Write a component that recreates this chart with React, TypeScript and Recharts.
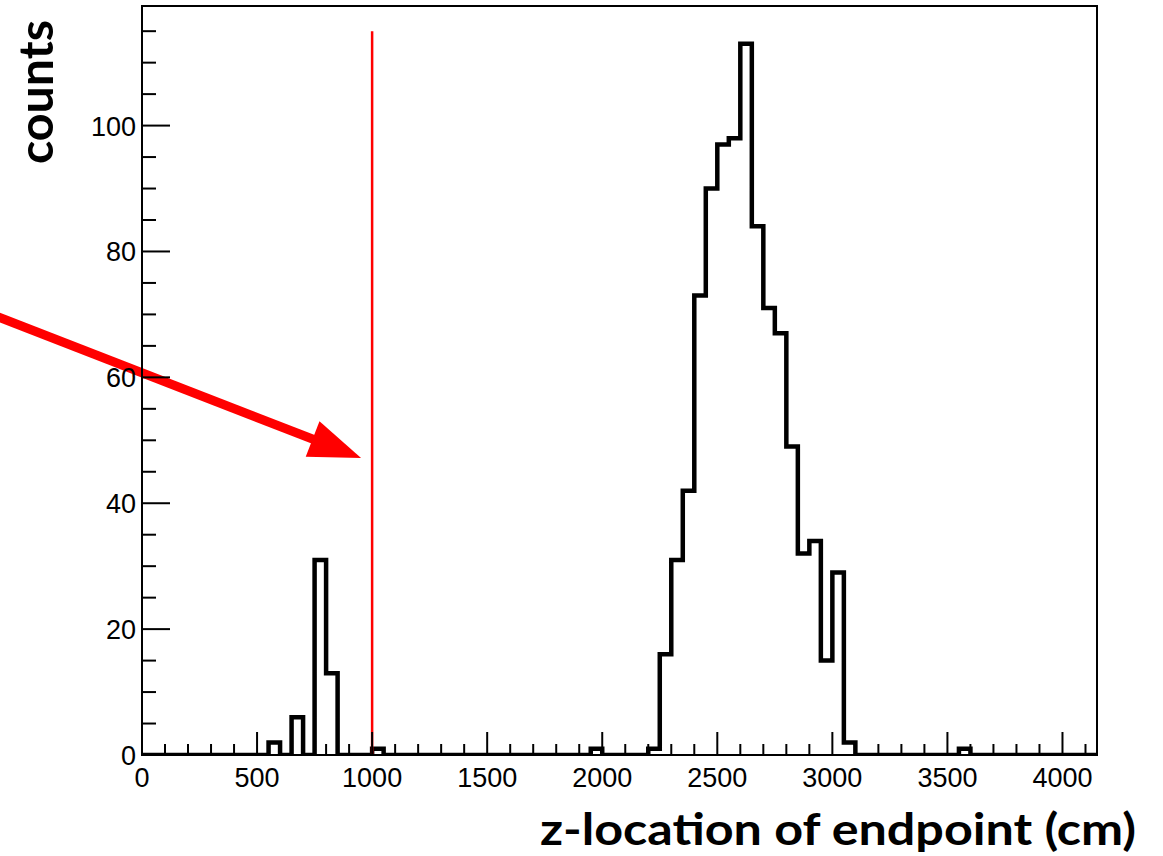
import { ComposedChart, Line, XAxis, YAxis, ReferenceLine, ReferenceArea } from "recharts";

// histogram: 50 cm bins starting at 0 cm, counts per bin
const BIN_WIDTH = 50;
const X_MAX = 4150;
const Y_MAX = 119;
const COUNTS = [
  0, 0, 0, 0, 0, 0, 0, 0, 0, 0, // 0 - 450
  0, 2, 0, 6, 0, 31, 13, 0, 0, 0, // 500 - 950
  1, 0, 0, 0, 0, 0, 0, 0, 0, 0, // 1000 - 1450
  0, 0, 0, 0, 0, 0, 0, 0, 0, 1, // 1500 - 1950
  0, 0, 0, 0, 1, 16, 31, 42, 73, 90, // 2000 - 2450
  97, 98, 113, 84, 71, 67, 49, 32, 34, 15, // 2500 - 2950
  29, 2, 0, 0, 0, 0, 0, 0, 0, 0, // 3000 - 3450
  0, 1, 0, 0, 0, 0, 0, 0, 0, 0, // 3500 - 3950
  0, 0, 0, // 4000 - 4100
];

const X_LABELS = [0, 500, 1000, 1500, 2000, 2500, 3000, 3500, 4000];
const Y_LABELS = [0, 20, 40, 60, 80, 100];
const X_MINOR_STEP = 100;
const Y_MINOR_STEP = 5;

const CUT_Z = 1000; // red cut line
const CUT_TOP = 115;
const ARROW_FROM = { x: -660, y: 70.1 };
const ARROW_TO = { x: 952, y: 47.2 };

const RED = "#ff0000";
const TICK_FONT = "'Liberation Sans', Arial, Helvetica, sans-serif";
const TITLE_FONT = "Lato, 'Open Sans', sans-serif";

const data = [
  ...COUNTS.map((c, i) => ({ x: i * BIN_WIDTH, count: c })),
  { x: COUNTS.length * BIN_WIDTH, count: COUNTS[COUNTS.length - 1] },
];

const xTicks = Array.from({ length: Math.floor((X_MAX - 1) / X_MINOR_STEP) + 1 }, (_, i) => i * X_MINOR_STEP);
const yTicks = Array.from({ length: Math.floor((Y_MAX - 1) / Y_MINOR_STEP) + 1 }, (_, i) => i * Y_MINOR_STEP);

function XTick({ x, y, payload }: any) {
  const v = payload.value;
  const major = X_LABELS.includes(v);
  return (
    <g>
      <line x1={x} x2={x} y1={y} y2={y - (major ? 23 : 11)} stroke="#000" strokeWidth={2} />
      {major && (
        <text x={x} y={y + 32} textAnchor="middle" fontSize={27} fontFamily={TICK_FONT} fill="#000">
          {v}
        </text>
      )}
    </g>
  );
}

function YTick({ x, y, payload }: any) {
  const v = payload.value;
  const major = Y_LABELS.includes(v);
  return (
    <g>
      <line x1={x} x2={x + (major ? 28 : 14)} y1={y} y2={y} stroke="#000" strokeWidth={2} />
      {major && (
        <text x={x - 6} y={y + 10} textAnchor="end" fontSize={27} fontFamily={TICK_FONT} fill="#000">
          {v}
        </text>
      )}
    </g>
  );
}

function ArrowShape({ x1, y1, x2, y2 }: any) {
  const dx = x2 - x1;
  const dy = y2 - y1;
  const len = Math.hypot(dx, dy);
  const ux = dx / len;
  const uy = dy / len;
  const headLen = 52;
  const half = 19;
  const bx = x2 - ux * headLen;
  const by = y2 - uy * headLen;
  return (
    <g>
      <line x1={x1} y1={y1} x2={bx + ux * 4} y2={by + uy * 4} stroke={RED} strokeWidth={9} />
      <polygon
        points={`${x2},${y2} ${bx - uy * half},${by + ux * half} ${bx + uy * half},${by - ux * half}`}
        fill={RED}
      />
    </g>
  );
}

export default function App() {
  return (
    <div style={{ position: "absolute", left: 0, top: 0, width: 1163, height: 856, background: "#fff" }}>
      <ComposedChart width={1163} height={856} data={data} margin={{ top: 6, right: 66, bottom: 0, left: 0 }}>
        <XAxis
          dataKey="x"
          type="number"
          domain={[0, X_MAX]}
          ticks={xTicks}
          interval={0}
          tickSize={0}
          tickMargin={0}
          tick={<XTick />}
          tickLine={false}
          axisLine={{ stroke: "#000", strokeWidth: 2 }}
          height={101}
          allowDataOverflow
          label={{
            content: () => (
              <text
                x={1136}
                y={845}
                textAnchor="end"
                fontSize={44}
                fontWeight={700}
                fontFamily={TITLE_FONT}
                fill="#000"
                textLength={596}
                lengthAdjust="spacingAndGlyphs"
              >
                z-location of endpoint (cm)
              </text>
            ),
          }}
        />
        <YAxis
          type="number"
          domain={[0, Y_MAX]}
          ticks={yTicks}
          interval={0}
          tickSize={0}
          tickMargin={0}
          tick={<YTick />}
          tickLine={false}
          axisLine={{ stroke: "#000", strokeWidth: 2 }}
          width={142}
          allowDataOverflow
          label={{
            content: () => (
              <text
                transform="translate(53, 92) rotate(-90)"
                textAnchor="middle"
                fontSize={48}
                fontWeight={700}
                fontFamily={TITLE_FONT}
                fill="#000"
                textLength={144}
                lengthAdjust="spacingAndGlyphs"
              >
                counts
              </text>
            ),
          }}
        />
        <ReferenceArea
          x1={0}
          x2={X_MAX}
          y1={0}
          y2={Y_MAX}
          fill="none"
          fillOpacity={0}
          stroke="#000"
          strokeWidth={2}
          ifOverflow="visible"
        />
        <Line
          type="stepAfter"
          dataKey="count"
          stroke="#000"
          strokeWidth={4.5}
          strokeLinejoin="miter"
          strokeLinecap="square"
          dot={false}
          activeDot={false}
          isAnimationActive={false}
        />
        <ReferenceLine
          segment={[
            { x: CUT_Z, y: 0 },
            { x: CUT_Z, y: CUT_TOP },
          ]}
          stroke={RED}
          strokeWidth={2.5}
          ifOverflow="visible"
        />
        <ReferenceLine segment={[ARROW_FROM, ARROW_TO]} stroke={RED} ifOverflow="visible" shape={ArrowShape} />
      </ComposedChart>
    </div>
  );
}
